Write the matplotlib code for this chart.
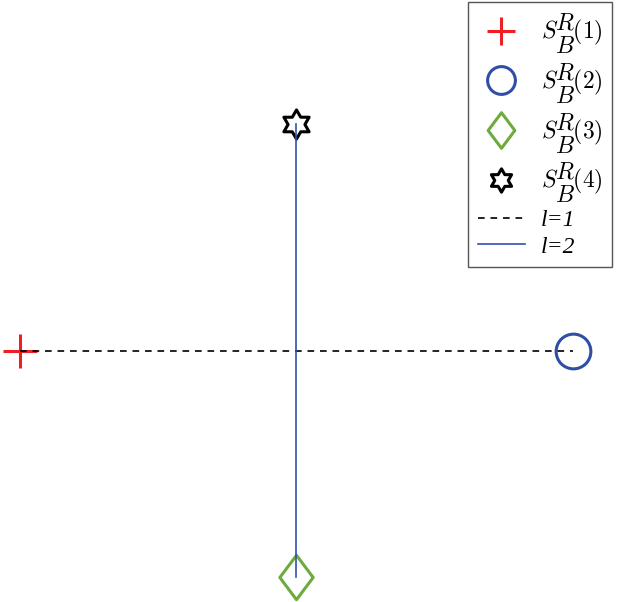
import numpy as np
import matplotlib
matplotlib.use("Agg")
import matplotlib.pyplot as plt
from matplotlib.path import Path
from matplotlib.font_manager import FontProperties

plt.rcParams['mathtext.fontset'] = 'cm'

# source positions (x, y)
src_x = [-1, 1, 0, 0]
src_y = [0, 0, -1, 1]
src_labels = [r'$S\genfrac{}{}{0}{0}{R}{B}\!(%d)$' % k for k in range(1, 5)]
src_colors = ['#ec1f27', '#2f4fa6', '#6eab3f', 'black']

# links between sources
link1 = [0, 1]   # l=1
link2 = [3, 2]   # l=2
link_labels = ['l=1', 'l=2']

# custom markers
diamond = Path([(0, 1), (0.75, 0), (0, -1), (-0.75, 0), (0, 1)],
               [Path.MOVETO, Path.LINETO, Path.LINETO, Path.LINETO, Path.CLOSEPOLY])
ang_out = np.deg2rad(90 + 60 * np.arange(6))
ang_in = ang_out + np.deg2rad(30)
pts = []
for a, b in zip(ang_out, ang_in):
    pts.append((np.cos(a), np.sin(a)))
    pts.append((np.cos(b) / np.sqrt(3), np.sin(b) / np.sqrt(3)))
pts.append(pts[0])
hexagram = Path(pts, [Path.MOVETO] + [Path.LINETO] * 11 + [Path.CLOSEPOLY])

markers = ['+', 'o', diamond, hexagram]
msizes = [25, 25, 32, 21]

fig = plt.figure(figsize=(6.18, 6.02), dpi=100)
ax = fig.add_axes([0, 0, 1, 1])

for i in range(4):
    ax.plot(src_x[i], src_y[i], linestyle='none', marker=markers[i],
            markersize=msizes[i], markeredgewidth=2.2, markeredgecolor=src_colors[i],
            markerfacecolor='none', label=src_labels[i], zorder=2)

ax.plot([src_x[j] for j in link1], [src_y[j] for j in link1], color='black',
        lw=1.2, ls=(0, (4, 3.5)), label=link_labels[0], zorder=3)
ax.plot([src_x[j] for j in link2], [src_y[j] for j in link2], color='#3050b0',
        lw=1.2, label=link_labels[1], zorder=3)

ax.set_xlim(-1.072, 1.163)
ax.set_ylim(-1.110, 1.547)
ax.axis('off')

leg = fig.legend(loc='upper right', bbox_to_anchor=(612 / 618, 1 - 2 / 602),
                 borderaxespad=0, fontsize=17, fancybox=False, framealpha=1,
                 edgecolor='#555555', markerscale=0.8, handlelength=2.0,
                 handletextpad=0.68, borderpad=0.4, labelspacing=0.2)
leg.get_frame().set_linewidth(1.0)
for t in leg.get_texts()[4:]:
    t.set_fontproperties(FontProperties(family='Liberation Serif', style='italic', size=17))

fig.savefig('out.png', dpi=100)
